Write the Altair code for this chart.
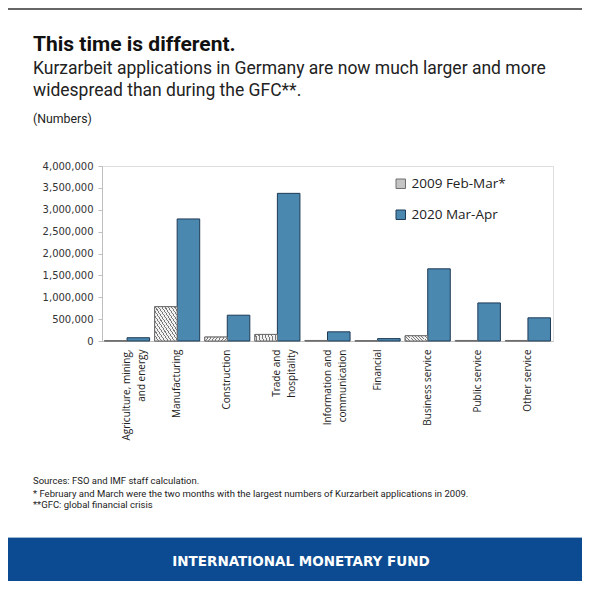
import altair as alt
import pandas as pd

# ---------------- data ----------------
sector_lines = [
    ["Agriculture, mining,", "and energy"],
    ["Manufacturing"],
    ["Construction"],
    ["Trade and", "hospitality"],
    ["Information and", "communication"],
    ["Financial"],
    ["Business service"],
    ["Public service"],
    ["Other service"],
]
sectors = ["|".join(l) for l in sector_lines]
series = ["2009 Feb-Mar*", "2020 Mar-Apr"]
values_2009 = [10000, 785000, 90000, 150000, 12000, 8000, 120000, 12000, 12000]
values_2020 = [75000, 2790000, 590000, 3375000, 210000, 55000, 1650000, 870000, 530000]
y_ticks = [0, 500000, 1000000, 1500000, 2000000, 2500000, 3000000, 3500000, 4000000]

title_text = ["This time is different."]
subtitle_text = ["Kurzarbeit applications in Germany are now much larger and more",
                 "widespread than during the GFC**."]
unit_text = ["(Numbers)"]
notes_text = ["Sources: FSO and IMF staff calculation.",
              "* February and March were the two months with the largest numbers of Kurzarbeit applications in 2009.",
              "**GFC: global financial crisis"]
banner_text = ["INTERNATIONAL MONETARY FUND"]

rows = []
for s, a, b in zip(sectors, values_2009, values_2020):
    rows.append({"sector": s, "series": series[0], "value": a})
    rows.append({"sector": s, "series": series[1], "value": b})
df = pd.DataFrame(rows)

# ---------------- styles ----------------
BLUE = "#4a88b0"
N = 14
stops = []
for i in range(N):
    o = i / N
    stops.append(alt.GradientStop(offset=o, color="#7a7a7a"))
    stops.append(alt.GradientStop(offset=o + 0.32 / N, color="#7a7a7a"))
    stops.append(alt.GradientStop(offset=o + 0.32 / N, color="#f2f2f2"))
    stops.append(alt.GradientStop(offset=(i + 1) / N, color="#f2f2f2"))
hatch = alt.LinearGradient(gradient="linear", stops=stops, x1=0, y1=1, x2=1, y2=0)

x_enc = alt.X("sector:N", sort=sectors,
              scale=alt.Scale(domain=sectors, paddingInner=0.1, paddingOuter=0.05),
              axis=alt.Axis(title=None, labelAngle=270, labelExpr="split(datum.label, '|')",
                            labelFont="Open Sans", labelFontSize=10, labelColor="#222",
                            labelLineHeight=15, ticks=False, labelPadding=8,
                            domainColor="#bfbfbf", labelAlign="right", labelBaseline="middle"))
xo_enc = alt.XOffset("series:N", scale=alt.Scale(domain=series, paddingInner=0, paddingOuter=0))
y_enc = alt.Y("value:Q", scale=alt.Scale(domain=[0, 4000000], nice=False),
              axis=alt.Axis(title=None, values=y_ticks, format=",d", grid=False,
                            labelFont="DejaVu Sans", labelFontSize=10, labelColor="#333",
                            tickColor="#bfbfbf", domainColor="#bfbfbf", tickSize=4,
                            labelPadding=5))

bars = alt.Chart(df).mark_bar(strokeWidth=1).encode(
    x=x_enc, xOffset=xo_enc, y=y_enc,
    fill=alt.Fill("series:N", scale=alt.Scale(domain=series, range=["#c4c4c4", BLUE]),
                  legend=alt.Legend(title=None, orient="none", legendX=292, legendY=11,
                                    symbolType="square", symbolSize=90,
                                    labelFont="Open Sans", labelFontSize=13.5,
                                    labelColor="#222", rowPadding=16, labelOffset=4,
                                    symbolStrokeColor="#333", symbolStrokeWidth=1,
                                    padding=0)),
    stroke=alt.Stroke("series:N", scale=alt.Scale(domain=series, range=["#6e6e6e", "#1f3a55"]),
                      legend=None),
)

hatch_bars = alt.Chart(df).transform_filter(
    alt.datum.series == series[0]
).mark_bar(fill=hatch, stroke="#6e6e6e", strokeWidth=1).encode(
    x=x_enc, xOffset=xo_enc, y=y_enc,
)

# ---------------- texts (plot origin at page (102,166)) ----------------
def text_rows(lines, x, ys, **kw):
    layers = []
    for t, y in zip(lines, ys):
        d = pd.DataFrame({"t": [t]})
        layers.append(alt.Chart(d).mark_text(align="left", baseline="alphabetic", **kw).encode(
            text="t:N", x=alt.value(x), y=alt.value(y)))
    return layers

OX = -69
title_l = text_rows(title_text, OX, [-115], font="Roboto", fontSize=21, fontWeight="bold", color="#111")
sub_l = text_rows(subtitle_text, OX, [-92, -70], font="Roboto", fontSize=17.5, color="#222")
unit_l = text_rows(unit_text, OX, [-43], font="Roboto", fontSize=12.3, color="#222")
notes_l = text_rows(notes_text, OX, [318, 330.5, 342], font="Roboto",
                    fontSize=9.5, color="#222")

banner_df = pd.DataFrame({"t": banner_text})
banner = alt.Chart(banner_df).mark_rect(color="#0c4b91").encode(
    x=alt.value(-94), x2=alt.value(480), y=alt.value(372), y2=alt.value(416))
banner_line = alt.Chart(banner_df).mark_rule(color="#9fb6cf", strokeWidth=1).encode(
    x=alt.value(-94), x2=alt.value(480), y=alt.value(371.5))
banner_t = alt.Chart(banner_df).mark_text(align="center", baseline="middle", font="DejaVu Sans",
                                          fontSize=13.5, fontWeight="bold", color="white").encode(
    text="t:N", x=alt.value(199), y=alt.value(396))
frame_top = alt.Chart(banner_df).mark_rect(color="#666").encode(
    x=alt.value(-94), x2=alt.value(480), y=alt.value(-158), y2=alt.value(-156))

chart = alt.layer(
    bars, hatch_bars, *title_l, *sub_l, *unit_l, *notes_l, banner, banner_line, banner_t,
    frame_top,
).properties(
    width=451, height=175,
    autosize=alt.AutoSizeParams(type="none"),
    padding={"left": 94, "top": 158, "right": 29, "bottom": 240},
).configure_view(stroke="#d9d9d9", strokeWidth=1).configure(background="white")

chart.save("out.html", embed_options={"renderer": "svg", "actions": False})
